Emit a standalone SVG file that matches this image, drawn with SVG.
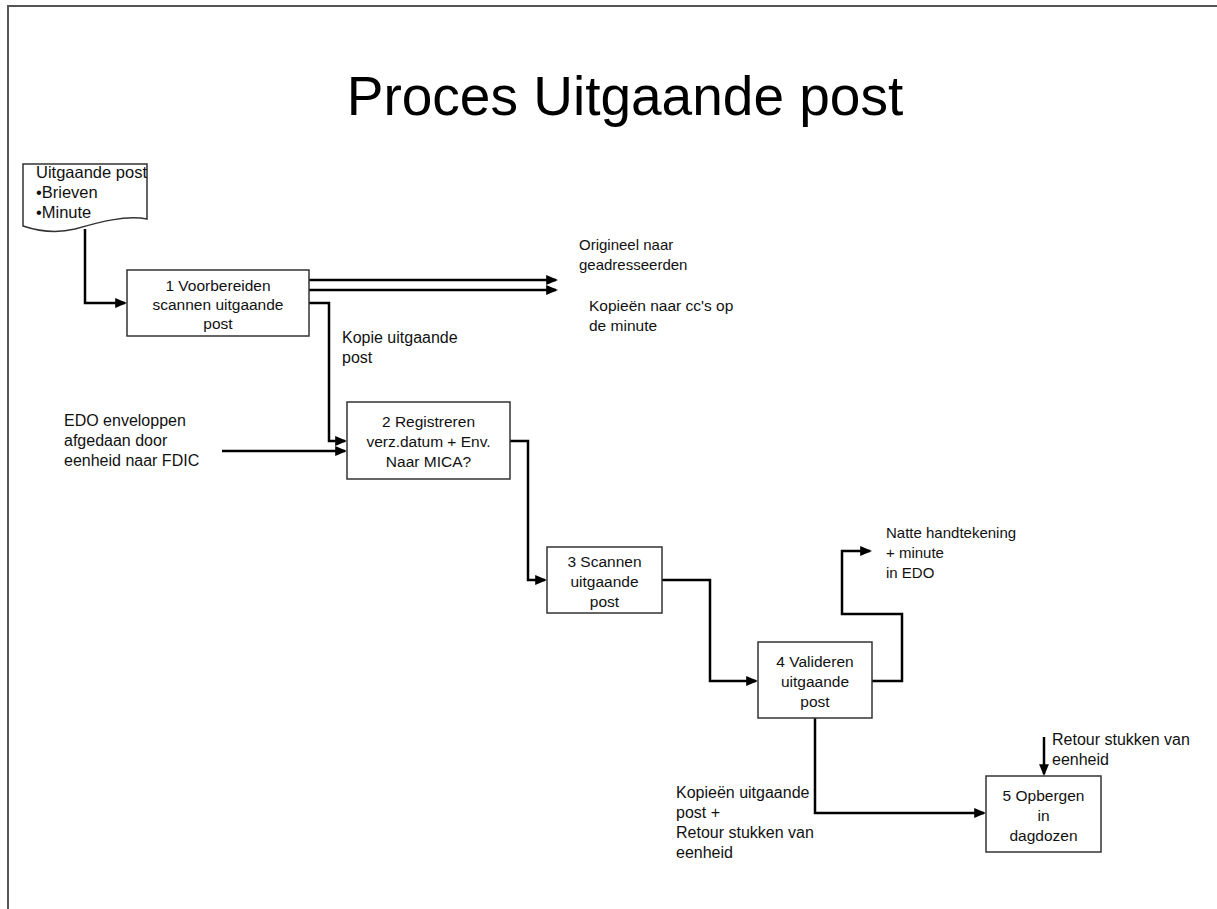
<svg xmlns="http://www.w3.org/2000/svg" width="1217" height="909" viewBox="0 0 1217 909">
<defs>
<marker id="ah" markerUnits="userSpaceOnUse" markerWidth="12" markerHeight="10" viewBox="0 0 11 9" refX="9" refY="4.5" orient="auto">
<path d="M0,0 L11,4.5 L0,9 z" fill="#000"/>
</marker>
<style>
.t{font-family:"Liberation Sans",Arial,sans-serif;font-size:16px;fill:#111}
.b{font-size:15.5px}
.s{font-size:15px}
.d{font-size:16.5px}
.c{text-anchor:middle}
.box{fill:#fff;stroke:#333;stroke-width:1.5}
.ln{fill:none;stroke:#000;stroke-width:2.5}
.ar{marker-end:url(#ah)}
</style>
</defs>
<rect width="1217" height="909" fill="#fff"/>
<path d="M8,909 V6 H1217" fill="none" stroke="#555" stroke-width="2"/>
<text x="625" y="115" font-family="Liberation Sans,Arial,sans-serif" font-size="55" text-anchor="middle" fill="#000">Proces Uitgaande post</text>

<g id="connectors">
<path class="ln ar" d="M85,229 V303 H125"/>
<path class="ln ar" d="M309,280 H556"/>
<path class="ln ar" d="M309,290 H556"/>
<path class="ln ar" d="M309,303 H329 V441 H345"/>
<path class="ln ar" d="M222,451 H345"/>
<path class="ln ar" d="M510,441 H528 V580 H545"/>
<path class="ln ar" d="M662,580 H710 V681 H756"/>
<path class="ln ar" d="M872,681 H902 V614 H842 V551 H870"/>
<path class="ln ar" d="M815,718 V813 H984"/>
<path class="ln ar" d="M1044,737 V774"/>
</g>

<g id="doc">
<path class="box" d="M23,164 H147 V219 C125,215 100,222 75,229 C55,234 38,231 23,226 Z"/>
<text class="t d" x="36" y="178">Uitgaande post</text>
<text class="t d" x="36" y="198">•Brieven</text>
<text class="t d" x="36" y="218">•Minute</text>
</g>

<g id="box1">
<rect class="box" x="127" y="270" width="182" height="66"/>
<text class="t b c" x="218" y="291">1 Voorbereiden</text>
<text class="t b c" x="218" y="310">scannen uitgaande</text>
<text class="t b c" x="218" y="329">post</text>
</g>

<g id="box2">
<rect class="box" x="347" y="402" width="163" height="77"/>
<text class="t b c" x="428.5" y="427">2 Registreren</text>
<text class="t b c" x="428.5" y="447">verz.datum + Env.</text>
<text class="t b c" x="428.5" y="467">Naar MICA?</text>
</g>

<g id="box3">
<rect class="box" x="547" y="547" width="115" height="66"/>
<text class="t b c" x="604.5" y="567">3 Scannen</text>
<text class="t b c" x="604.5" y="587">uitgaande</text>
<text class="t b c" x="604.5" y="607">post</text>
</g>

<g id="box4">
<rect class="box" x="758" y="642" width="114" height="76"/>
<text class="t b c" x="815" y="667">4 Valideren</text>
<text class="t b c" x="815" y="687">uitgaande</text>
<text class="t b c" x="815" y="707">post</text>
</g>

<g id="box5">
<rect class="box" x="986" y="776" width="115" height="76"/>
<text class="t b c" x="1043.5" y="801">5 Opbergen</text>
<text class="t b c" x="1043.5" y="821">in</text>
<text class="t b c" x="1043.5" y="841">dagdozen</text>
</g>

<g id="labels">
<text class="t s" x="579" y="250">Origineel naar</text>
<text class="t s" x="579" y="270">geadresseerden</text>
<text class="t b" x="589" y="311">Kopieën naar cc's op</text>
<text class="t b" x="589" y="331">de minute</text>
<text class="t" x="342" y="343">Kopie uitgaande</text>
<text class="t" x="342" y="363">post</text>
<text class="t" x="64" y="426">EDO enveloppen</text>
<text class="t" x="64" y="446">afgedaan door</text>
<text class="t" x="64" y="466">eenheid naar FDIC</text>
<text class="t s" x="886" y="538">Natte handtekening</text>
<text class="t s" x="886" y="558">+ minute</text>
<text class="t s" x="886" y="578">in EDO</text>
<text class="t" x="1052" y="745">Retour stukken van</text>
<text class="t" x="1052" y="765">eenheid</text>
<text class="t" x="676" y="798">Kopieën uitgaande</text>
<text class="t" x="676" y="818">post +</text>
<text class="t" x="676" y="838">Retour stukken van</text>
<text class="t" x="676" y="858">eenheid</text>
</g>
</svg>
